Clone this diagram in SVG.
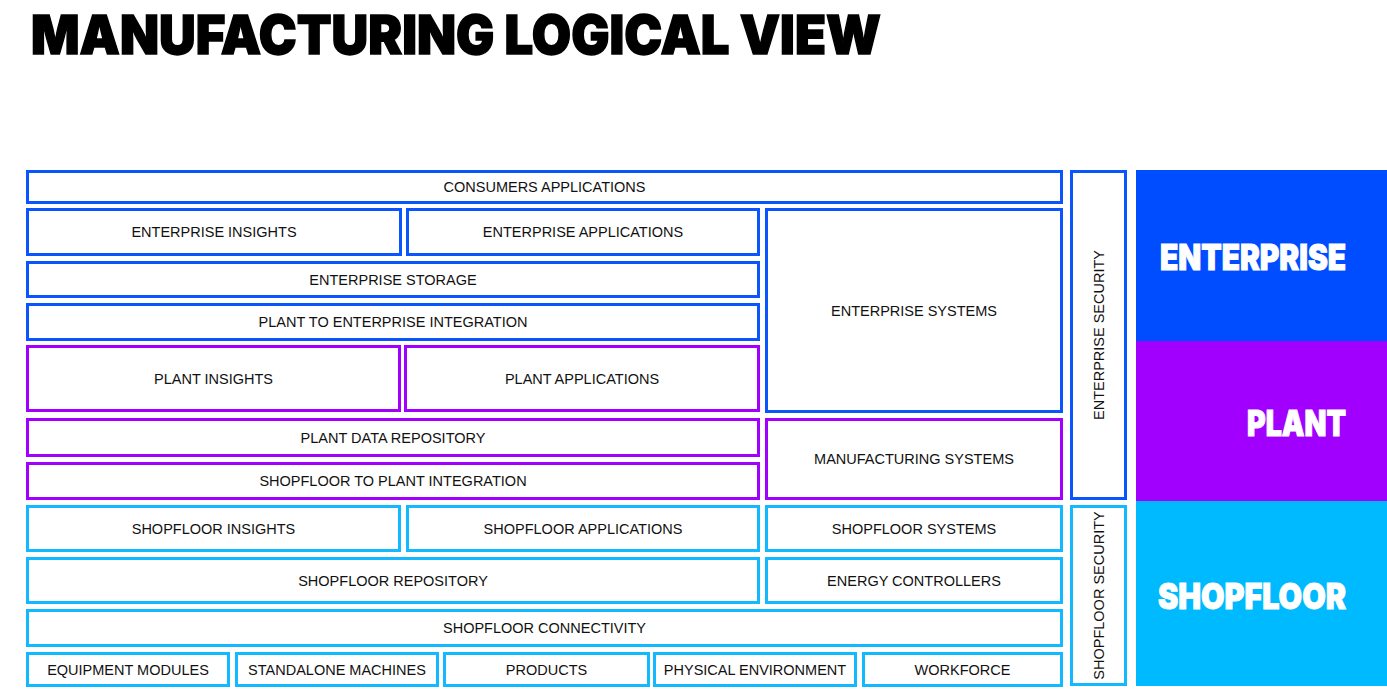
<svg xmlns="http://www.w3.org/2000/svg" width="1387" height="697" viewBox="0 0 1387 697">
<style>
  .b{fill:#fff;stroke-width:3}
  .ent{stroke:#0b55ff}
  .pl{stroke:#a100ff}
  .sf{stroke:#12b9ff}
  .t{font-family:"Liberation Sans",Arial,sans-serif;font-size:14.5px;fill:#111;text-anchor:middle;dominant-baseline:central}
  .big{font-family:"Inter","Liberation Sans",Arial,sans-serif;font-weight:900;fill:#fff;stroke:#fff;stroke-width:1;text-anchor:end}
  .title{font-family:"Inter","Liberation Sans",Arial,sans-serif;font-weight:900;font-size:54px;fill:#000;stroke:#000;stroke-width:1.4}
</style>
<rect width="1387" height="697" fill="#fff"/>
<text class="title" x="31" y="53.5" textLength="850" lengthAdjust="spacingAndGlyphs">MANUFACTURING LOGICAL VIEW</text>

<g id="bands">
  <rect x="1136" y="170" width="251" height="171" fill="#004dff"/>
  <rect x="1136" y="341" width="251" height="160" fill="#a100ff"/>
  <rect x="1136" y="501" width="251" height="185" fill="#00baff"/>
  <text class="big" x="1346" y="270" font-size="35" textLength="186" lengthAdjust="spacingAndGlyphs">ENTERPRISE</text>
  <text class="big" x="1346" y="436" font-size="35" textLength="99" lengthAdjust="spacingAndGlyphs">PLANT</text>
  <text class="big" x="1346" y="609" font-size="35" textLength="188" lengthAdjust="spacingAndGlyphs">SHOPFLOOR</text>
</g>

<g id="consumers-applications"><rect class="b ent" x="27.5" y="171.5" width="1034" height="31"/><text class="t" x="544.5" y="187">CONSUMERS APPLICATIONS</text></g>
<g id="enterprise-insights"><rect class="b ent" x="27.5" y="209.5" width="373" height="45"/><text class="t" x="214" y="232">ENTERPRISE INSIGHTS</text></g>
<g id="enterprise-applications"><rect class="b ent" x="407.5" y="209.5" width="351" height="45"/><text class="t" x="583" y="232">ENTERPRISE APPLICATIONS</text></g>
<g id="enterprise-systems"><rect class="b ent" x="766.5" y="209.5" width="295" height="202"/><text class="t" x="914" y="310.5">ENTERPRISE SYSTEMS</text></g>
<g id="enterprise-storage"><rect class="b ent" x="27.5" y="262.5" width="731" height="34"/><text class="t" x="393" y="279.5">ENTERPRISE STORAGE</text></g>
<g id="plant-to-enterprise-integration"><rect class="b ent" x="27.5" y="304.5" width="731" height="35"/><text class="t" x="393" y="322">PLANT TO ENTERPRISE INTEGRATION</text></g>
<g id="plant-insights"><rect class="b pl" x="27.5" y="346.5" width="372" height="64"/><text class="t" x="213.5" y="379">PLANT INSIGHTS</text></g>
<g id="plant-applications"><rect class="b pl" x="405.5" y="346.5" width="353" height="64"/><text class="t" x="582" y="379">PLANT APPLICATIONS</text></g>
<g id="plant-data-repository"><rect class="b pl" x="27.5" y="419.5" width="731" height="36"/><text class="t" x="393" y="437.5">PLANT DATA REPOSITORY</text></g>
<g id="shopfloor-to-plant-integration"><rect class="b pl" x="27.5" y="463.5" width="731" height="35"/><text class="t" x="393" y="481">SHOPFLOOR TO PLANT INTEGRATION</text></g>
<g id="manufacturing-systems"><rect class="b pl" x="766.5" y="419.5" width="295" height="79"/><text class="t" x="914" y="459">MANUFACTURING SYSTEMS</text></g>
<g id="enterprise-security"><rect class="b ent" x="1071.5" y="171.5" width="54" height="327"/><text class="t" transform="translate(1099,335) rotate(-90)" x="0" y="0">ENTERPRISE SECURITY</text></g>

<g id="shopfloor-insights"><rect class="b sf" x="27.5" y="506.5" width="372" height="44"/><text class="t" x="213.5" y="528.5">SHOPFLOOR INSIGHTS</text></g>
<g id="shopfloor-applications"><rect class="b sf" x="407.5" y="506.5" width="351" height="44"/><text class="t" x="583" y="528.5">SHOPFLOOR APPLICATIONS</text></g>
<g id="shopfloor-systems"><rect class="b sf" x="766.5" y="506.5" width="295" height="44"/><text class="t" x="914" y="528.5">SHOPFLOOR SYSTEMS</text></g>
<g id="shopfloor-repository"><rect class="b sf" x="27.5" y="558.5" width="731" height="44"/><text class="t" x="393" y="580.5">SHOPFLOOR REPOSITORY</text></g>
<g id="energy-controllers"><rect class="b sf" x="766.5" y="558.5" width="295" height="44"/><text class="t" x="914" y="580.5">ENERGY CONTROLLERS</text></g>
<g id="shopfloor-connectivity"><rect class="b sf" x="27.5" y="610.5" width="1034" height="35"/><text class="t" x="544.5" y="628">SHOPFLOOR CONNECTIVITY</text></g>
<g id="shopfloor-security"><rect class="b sf" x="1071.5" y="506.5" width="54" height="178"/><text class="t" transform="translate(1099,595.5) rotate(-90)" x="0" y="0">SHOPFLOOR SECURITY</text></g>
<g id="equipment-modules"><rect class="b sf" x="27.5" y="653.5" width="201" height="32"/><text class="t" x="128" y="669.5">EQUIPMENT MODULES</text></g>
<g id="standalone-machines"><rect class="b sf" x="236.5" y="653.5" width="201" height="32"/><text class="t" x="337" y="669.5">STANDALONE MACHINES</text></g>
<g id="products"><rect class="b sf" x="444.5" y="653.5" width="204" height="32"/><text class="t" x="546.5" y="669.5">PRODUCTS</text></g>
<g id="physical-environment"><rect class="b sf" x="654.5" y="653.5" width="201" height="32"/><text class="t" x="755" y="669.5">PHYSICAL ENVIRONMENT</text></g>
<g id="workforce"><rect class="b sf" x="863.5" y="653.5" width="198" height="32"/><text class="t" x="962.5" y="669.5">WORKFORCE</text></g>

<g id="connectors"></g>
</svg>
